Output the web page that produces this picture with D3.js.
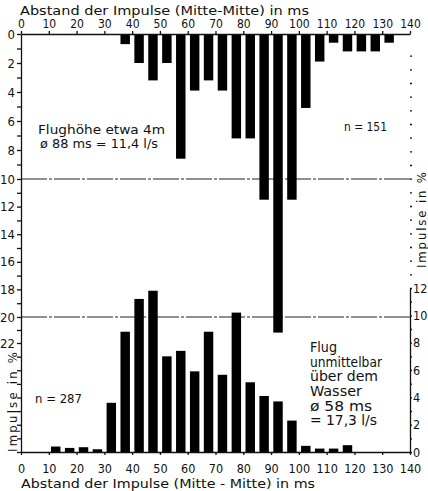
<!DOCTYPE html>
<html>
<head>
<meta charset="utf-8">
<script src="https://cdn.jsdelivr.net/npm/d3@7"></script>
<style>
body { margin: 0; background: #fff; }
svg text { font-family: "DejaVu Sans Condensed", "Liberation Sans Narrow", "DejaVu Sans", sans-serif; fill: #111; }
.axis path, .axis line { stroke: #111; stroke-width: 1.3; }
</style>
</head>
<body>
<svg width="428" height="491"></svg>
<script>
// Flughöhe etwa 4 m, n = 151 (bars hang from the top axis)
var binsHigh = [37.5, 42.5, 47.5, 52.5, 57.5, 62.5, 67.5, 72.5, 77.5, 82.5,
                87.5, 92.5, 97.5, 102.5, 107.5, 112.5, 117.5, 122.5, 127.5, 132.5];
var pctHigh = [0.7, 2.0, 3.2, 2.0, 8.6, 3.9, 3.2, 3.9, 7.2, 7.2,
               11.5, 21.2, 11.5, 5.1, 1.9, 0.6, 1.2, 1.2, 1.2, 0.6];

// Flug unmittelbar über dem Wasser, n = 287 (bars stand on the bottom axis)
var binsLow = [12.5, 17.5, 22.5, 27.5, 32.5, 37.5, 42.5, 47.5, 52.5, 57.5, 62.5,
               67.5, 72.5, 77.5, 82.5, 87.5, 92.5, 97.5, 102.5, 107.5, 112.5, 117.5];
var pctLow = [0.4, 0.3, 0.35, 0.2, 3.6, 8.8, 11.2, 11.8, 7.0, 7.4, 5.9,
              8.8, 5.65, 10.2, 5.1, 4.1, 3.7, 2.3, 0.45, 0.25, 0.25, 0.5];

var msTicks = d3.range(0, 141, 10);
var leftTicks = d3.range(0, 31);     // labelled 0..22
var rightTicks = d3.range(0, 30);    // labelled 0..12

var svg = d3.select("svg");

var x = d3.scaleLinear().domain([0, 140]).range([21, 410]);
// the scanned left scale is not quite even, so pin it at a few labels
var yHigh = d3.scaleLinear().domain([0, 10, 20, 22, 30]).range([34, 179, 317, 343, 452]);
var yLow = d3.scaleLinear().domain([0, 12]).range([452, 288]);

var barW = x(3.4) - x(0);

// horizontal guide lines at 10 % and 20 %
[10, 20].forEach(function(v) {
  svg.append("line")
    .attr("x1", x(0)).attr("x2", x(140))
    .attr("y1", yHigh(v)).attr("y2", yHigh(v))
    .attr("stroke", "#222").attr("stroke-width", 1.1)
    .attr("stroke-dasharray", "26,2,3,2");
});

svg.append("g").selectAll("rect")
  .data(binsHigh).enter()
  .append("rect")
  .attr("x", function(d) { return x(d) - barW / 2; })
  .attr("y", yHigh(0))
  .attr("width", barW)
  .attr("height", function(d, i) { return yHigh(pctHigh[i]) - yHigh(0); })
  .attr("fill", "#000");

svg.append("g").selectAll("rect")
  .data(binsLow).enter()
  .append("rect")
  .attr("x", function(d) { return x(d) - barW / 2; })
  .attr("y", function(d, i) { return yLow(pctLow[i]); })
  .attr("width", barW)
  .attr("height", function(d, i) { return yLow(0) - yLow(pctLow[i]); })
  .attr("fill", "#000");

// axes
svg.append("g").attr("class", "axis")
  .attr("transform", "translate(0," + yHigh(0) + ")")
  .call(d3.axisTop(x).tickValues(msTicks).tickSize(3).tickSizeOuter(0).tickPadding(3))
  .selectAll("text").style("font-size", "12px");

svg.append("g").attr("class", "axis")
  .attr("transform", "translate(0," + yLow(0) + ")")
  .call(d3.axisBottom(x).tickValues(msTicks).tickSize(3).tickSizeOuter(0).tickPadding(9))
  .selectAll("text").style("font-size", "12.5px");

svg.append("g").attr("class", "axis")
  .attr("transform", "translate(" + x(0) + ",0)")
  .call(d3.axisLeft(yHigh).tickValues(leftTicks).tickSize(4).tickSizeOuter(0).tickPadding(2)
    .tickFormat(function(d) { return d <= 22 && d % 2 == 0 ? d : ""; }))
  .selectAll("text").style("font-size", "13px");

svg.append("g").attr("class", "axis")
  .attr("transform", "translate(" + x(140) + ",0)")
  .call(d3.axisRight(yLow).tickValues(rightTicks).tickSize(2).tickSizeOuter(0).tickPadding(1)
    .tickFormat(function(d) { return d <= 12 && d % 2 == 0 ? d : ""; }))
  .selectAll("text").style("font-size", "12.5px");

svg.selectAll(".axis .domain").attr("stroke-width", 1.5);

// texts
function label(t, px, py, size, len) {
  var el = svg.append("text")
    .attr("x", px).attr("y", py)
    .style("font-size", size + "px")
    .text(t);
  if (len) el.attr("textLength", len).attr("lengthAdjust", "spacingAndGlyphs");
  return el;
}

label("Abstand der Impulse (Mitte-Mitte) in ms", 20, 15, 13, 289);
label("Abstand der Impulse (Mitte - Mitte) in ms", 21, 488, 13, 294);

label("Flughöhe etwa 4m", 38, 133.5, 12.5, 127);
label("ø 88 ms = 11,4  l/s", 40, 148, 12.5, 118);
label("n = 151", 344, 131, 13, 43);
label("n = 287", 35, 403, 13, 47);

label("Flug", 310, 352, 14, 27);
label("unmittelbar", 310, 366.5, 14, 72);
label("über dem", 310, 381, 14, 68);
label("Wasser", 310, 396, 14, 52);
label("ø 58 ms", 310, 410.5, 14, 62);
label("= 17,3 l/s", 310, 425, 14, 67);

svg.append("text")
  .attr("transform", "translate(426,220) rotate(-90)")
  .attr("text-anchor", "middle")
  .style("font-size", "13px")
  .attr("textLength", 96).attr("lengthAdjust", "spacing")
  .text("Impulse in %");

svg.append("text")
  .attr("transform", "translate(17,402) rotate(-90)")
  .attr("text-anchor", "middle")
  .style("font-size", "13px")
  .attr("textLength", 100).attr("lengthAdjust", "spacing")
  .text("Impulse in %");
</script>
</body>
</html>
